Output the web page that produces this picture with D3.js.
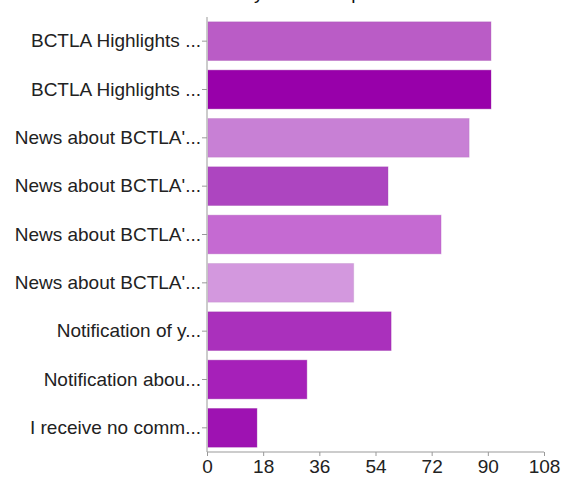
<!DOCTYPE html>
<html>
<head>
<meta charset="utf-8">
<script src="https://cdn.jsdelivr.net/npm/d3@7"></script>
<style>
  html, body { margin: 0; padding: 0; background: #fff; }
  svg { display: block; }
  text { font-family: "Liberation Sans", Arial, Helvetica, sans-serif; }
</style>
</head>
<body>
<svg id="chart" width="565" height="483"></svg>
<script>
const title = "Which do you find helpful?";
const categories = [
  "BCTLA Highlights ...",
  "BCTLA Highlights ... ",
  "News about BCTLA'...",
  "News about BCTLA'... ",
  "News about BCTLA'...  ",
  "News about BCTLA'...   ",
  "Notification of y...",
  "Notification abou...",
  "I receive no comm..."
];
const values = [91, 91, 84, 58, 75, 47, 59, 32, 16];
const colors = ["#ba5cc6", "#9800aa", "#c880d5", "#ad45c0", "#c56ad2", "#d398de", "#aa30bc", "#a620b9", "#9e12b2"];
const xTicks = [0, 18, 36, 54, 72, 90, 108];

const svg = d3.select("#chart");
const mLeft = 207, mRight = 544, mTop = 17, mBottom = 452;

const x = d3.scaleLinear().domain([0, 108]).range([mLeft, mRight]);
const y = d3.scaleBand().domain(categories).range([mTop, mBottom]).paddingInner(0.2).paddingOuter(0.1);

// title (mostly clipped at top)
svg.append("text")
  .attr("x", 281).attr("y", -1)
  .attr("text-anchor", "middle")
  .attr("font-size", 19)
  .attr("fill", "#111")
  .text(title);

svg.append("g")
  .selectAll("rect")
  .data(values)
  .join("rect")
  .attr("x", x(0) + 1)
  .attr("y", (d, i) => y(categories[i]))
  .attr("width", d => x(d) - x(0) - 1)
  .attr("height", y.bandwidth())
  .attr("fill", (d, i) => colors[i])
  .attr("stroke", (d, i) => d3.color(colors[i]).darker(0.3))
  .attr("stroke-opacity", 0.35)
  .attr("stroke-width", 1);

// y axis
const yAxis = svg.append("g")
  .attr("transform", `translate(${mLeft},0)`)
  .call(d3.axisLeft(y).tickSize(5).tickPadding(1).tickFormat(d => d.trim()));
yAxis.select(".domain").attr("stroke", "#999").attr("d", `M0,${mTop}V${mBottom}`);
yAxis.selectAll(".tick line").attr("stroke", "#999");
yAxis.selectAll(".tick text").attr("font-size", 19).attr("fill", "#222").attr("font-family", "Liberation Sans, Arial, sans-serif");

// x axis
const xAxis = svg.append("g")
  .attr("transform", `translate(0,${mBottom})`)
  .call(d3.axisBottom(x).tickValues(xTicks).tickSize(4).tickPadding(4).tickFormat(d3.format("d")));
xAxis.select(".domain").attr("stroke", "#999").attr("d", `M${mLeft},0H${mRight}`);
xAxis.selectAll(".tick line").attr("stroke", "#999");
xAxis.selectAll(".tick text").attr("font-size", 19).attr("fill", "#222").attr("font-family", "Liberation Sans, Arial, sans-serif");
</script>
</body>
</html>
